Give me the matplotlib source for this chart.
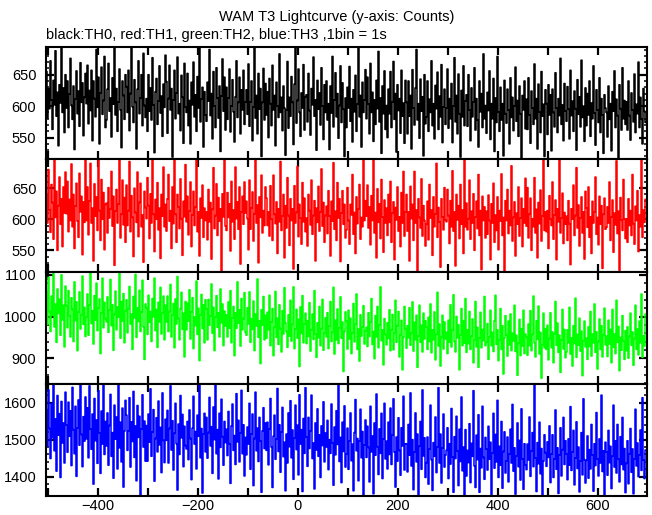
import numpy as np
import matplotlib
matplotlib.use("Agg")
import matplotlib.pyplot as plt
from matplotlib.ticker import MultipleLocator, FuncFormatter, NullLocator

plt.rcParams['font.family'] = ['Liberation Sans', 'DejaVu Sans']

title = "WAM T3 Lightcurve (y-axis: Counts)"
subtitle = "black:TH0, red:TH1, green:TH2, blue:TH3 ,1bin = 1s"

# time axis (s), one value every 2 s
time_start = -502
time_step = 2

th0 = [
655, 581, 628, 596, 672, 610, 563, 641, 602, 688, 584, 622, 537, 634, 605, 694, 590, 629, 558, 650,
597, 640, 566, 619, 676, 601, 579, 632, 531, 611, 656, 588, 624, 568, 669, 606, 637, 553, 614, 652,
604, 665, 572, 625, 593, 657, 545, 640, 612, 583, 690, 598, 646, 540, 621, 662, 587, 609, 679, 566,
578, 627, 668, 592, 613, 551, 645, 603, 694, 586, 628, 560, 607, 659, 594, 534, 640, 617, 579, 650,
631, 590, 657, 561, 620, 694, 599, 574, 642, 606, 532, 627, 672, 588, 613, 650, 569, 684, 601, 582,
612, 560, 650, 592, 629, 578, 677, 602, 526, 623, 644, 571, 608, 664, 589, 616, 552, 635, 598, 681,
639, 557, 612, 665, 594, 628, 519, 610, 657, 580, 621, 678, 588, 604, 561, 649, 614, 541, 668, 599,
590, 652, 569, 609, 540, 638, 602, 670, 583, 618, 560, 647, 597, 694, 575, 611, 630, 535, 623, 586,
576, 638, 608, 690, 585, 620, 548, 655, 600, 566, 661, 613, 581, 632, 528, 616, 675, 592, 646, 562,
630, 579, 613, 659, 559, 600, 642, 591, 543, 615, 672, 582, 606, 646, 556, 626, 594, 657, 571, 607,
626, 587, 667, 568, 607, 640, 545, 599, 694, 581, 617, 556, 652, 595, 628, 520, 606, 660, 578, 636,
586, 623, 550, 644, 604, 569, 665, 594, 617, 537, 638, 600, 582, 683, 590, 614, 561, 632, 597, 522,
594, 671, 565, 614, 584, 647, 606, 539, 635, 694, 573, 609, 659, 590, 552, 621, 597, 666, 562, 615,
618, 575, 652, 593, 554, 628, 602, 678, 584, 610, 530, 641, 595, 621, 570, 661, 600, 547, 634, 590,
640, 578, 604, 531, 632, 589, 679, 567, 610, 653, 583, 620, 549, 601, 664, 574, 637, 595, 520, 613,
566, 630, 597, 663, 576, 612, 543, 626, 591, 649, 560, 603, 694, 583, 617, 535, 638, 590, 610, 658,
580, 646, 603, 556, 668, 590, 622, 544, 610, 571, 641, 596, 687, 575, 613, 525, 632, 588, 656, 563,
601, 550, 627, 588, 655, 566, 607, 671, 579, 620, 527, 634, 593, 612, 557, 657, 584, 605, 541, 641,
606, 556, 640, 584, 617, 532, 658, 597, 570, 629, 690, 578, 604, 549, 643, 592, 615, 521, 650, 572,
583, 640, 560, 611, 590, 672, 569, 604, 548, 633, 596, 654, 563, 616, 583, 666, 542, 599, 627, 571,
597, 659, 565, 612, 580, 636, 542, 600, 677, 575, 617, 556, 651, 588, 519, 625, 583, 664, 569, 608,
618, 568, 650, 594, 545, 629, 583, 607, 661, 562, 612, 578, 535, 640, 591, 620, 566, 683, 580, 601,
557, 622, 593, 656, 547, 604, 580, 644, 528, 613, 574, 679, 591, 560, 630, 578, 604, 521, 641, 588,
573, 627, 594, 540, 645, 582, 614, 561, 600, 662, 576, 609, 552, 632, 588, 518, 617, 594, 640, 564,
611, 563, 645, 586, 541, 624, 597, 571, 667, 580, 612, 532, 635, 591, 558, 655, 584, 603, 520, 626,
604, 555, 634, 586, 618, 529, 627, 590, 567, 653, 597, 558, 612, 585, 676, 571, 602, 545, 636, 592,
576, 631, 595, 548, 657, 585, 608, 560, 624, 596, 530, 642, 587, 615, 567, 673, 582, 600, 544, 629,
569, 620, 586, 640, 552, 605, 580, 664, 589, 538, 626, 594, 574, 645, 558, 612, 586, 525, 618, 597,
590, 551, 632, 579, 604, 529, 623, 592, 656, 566, 611, 585, 518, 634, 596, 562, 661, 580, 609, 571,
607, 562, 640, 585, 546, 621, 594, 575, 651, 558, 603, 588, 670, 566, 614, 580, 540, 628, 592, 574,
]

th1 = [
641, 594, 680, 615, 579, 656, 627, 568, 705, 603, 645, 550, 622, 668, 592, 633, 556, 652, 610, 676,
609, 661, 580, 632, 598, 689, 588, 640, 553, 621, 658, 597, 571, 674, 612, 637, 543, 628, 595, 702,
598, 652, 575, 629, 690, 594, 618, 533, 657, 605, 636, 582, 710, 614, 566, 664, 600, 643, 551, 624,
626, 578, 651, 602, 617, 677, 589, 637, 526, 613, 648, 594, 625, 703, 570, 608, 663, 591, 635, 563,
655, 590, 614, 693, 580, 638, 603, 540, 650, 611, 595, 676, 572, 627, 658, 588, 607, 531, 645, 619,
601, 667, 622, 569, 641, 594, 697, 608, 548, 632, 600, 659, 583, 618, 537, 640, 605, 684, 588, 624,
581, 633, 672, 597, 614, 553, 652, 593, 706, 608, 563, 640, 620, 585, 665, 601, 542, 629, 604, 688,
596, 637, 575, 613, 660, 556, 607, 645, 590, 620, 712, 580, 612, 541, 634, 602, 655, 571, 618, 598,
612, 567, 648, 596, 627, 536, 616, 683, 585, 606, 657, 574, 635, 597, 617, 515, 641, 604, 699, 589,
582, 643, 603, 625, 549, 661, 596, 615, 568, 684, 601, 628, 584, 652, 528, 612, 637, 592, 660, 610,
629, 601, 551, 663, 584, 618, 644, 565, 609, 714, 594, 623, 530, 636, 603, 671, 578, 614, 590, 652,
634, 590, 612, 573, 654, 600, 566, 671, 608, 593, 628, 545, 617, 596, 693, 582, 605, 640, 538, 622,
586, 667, 606, 558, 633, 598, 617, 520, 654, 594, 611, 685, 572, 624, 602, 560, 659, 596, 634, 580,
602, 557, 640, 614, 591, 663, 576, 606, 630, 533, 618, 595, 653, 581, 612, 681, 589, 627, 563, 606,
621, 577, 646, 605, 541, 629, 597, 691, 584, 613, 566, 659, 602, 633, 532, 610, 646, 592, 624, 570,
583, 651, 598, 560, 624, 607, 672, 576, 611, 545, 636, 593, 617, 656, 568, 603, 588, 710, 598, 630,
605, 655, 586, 620, 559, 638, 598, 704, 578, 611, 538, 649, 595, 625, 569, 664, 604, 547, 631, 594,
618, 574, 640, 595, 661, 563, 610, 628, 535, 619, 599, 652, 581, 604, 556, 643, 594, 677, 573, 612,
640, 581, 612, 533, 653, 601, 624, 566, 677, 594, 615, 510, 633, 603, 586, 665, 573, 622, 598, 557,
592, 629, 567, 656, 602, 615, 542, 636, 588, 609, 690, 571, 619, 596, 523, 633, 604, 583, 651, 599,
596, 648, 606, 561, 630, 588, 678, 581, 612, 525, 640, 599, 622, 569, 656, 592, 615, 545, 703, 588,
626, 583, 601, 663, 568, 613, 594, 641, 550, 604, 629, 585, 672, 574, 614, 519, 637, 598, 620, 570,
613, 576, 639, 598, 535, 625, 594, 658, 563, 607, 582, 636, 551, 614, 597, 673, 574, 603, 509, 630,
598, 648, 577, 614, 590, 686, 565, 603, 628, 541, 610, 592, 652, 573, 602, 634, 556, 617, 594, 666,
589, 651, 570, 608, 634, 550, 601, 588, 667, 578, 616, 538, 627, 593, 647, 565, 605, 712, 582, 612,
580, 614, 553, 638, 600, 590, 660, 568, 607, 631, 535, 617, 596, 698, 578, 602, 642, 561, 611, 592,
605, 566, 630, 593, 527, 617, 600, 655, 574, 606, 683, 586, 623, 557, 602, 636, 578, 612, 536, 645,
618, 587, 652, 571, 604, 545, 629, 594, 612, 668, 576, 603, 559, 637, 592, 622, 521, 608, 634, 584,
587, 620, 594, 660, 566, 604, 631, 547, 610, 591, 694, 577, 613, 518, 635, 599, 582, 664, 600, 569,
601, 563, 633, 590, 614, 574, 672, 593, 560, 621, 598, 646, 548, 607, 588, 706, 571, 615, 595, 632,
]

th2 = [
1058, 981, 1094, 1012, 964, 1049, 1003, 1108, 975, 1030, 938, 1066, 1007, 1041, 955, 1100, 992, 1027, 927, 1073,
1026, 973, 1062, 1002, 951, 1045, 1017, 940, 1083, 990, 1035, 918, 1011, 1059, 970, 1004, 1097, 981, 1022, 952,
998, 1054, 955, 1027, 1108, 983, 1014, 934, 1050, 991, 1080, 966, 1020, 1042, 911, 1008, 1092, 973, 1034, 995,
987, 1047, 962, 1016, 1089, 978, 1028, 919, 1005, 1061, 968, 1023, 998, 1108, 948, 1036, 989, 1055, 937, 1014,
1040, 961, 1018, 1072, 982, 1006, 921, 1048, 997, 1101, 950, 1021, 988, 1063, 964, 1011, 1087, 975, 897, 1030,
1021, 957, 1051, 986, 1012, 940, 1043, 999, 1092, 966, 1017, 926, 1034, 987, 1070, 958, 1008, 1049, 944, 1027,
987, 1049, 964, 1012, 1077, 951, 1003, 1031, 925, 1042, 982, 1096, 995, 944, 1019, 1058, 969, 1008, 903, 1036,
968, 1032, 989, 1064, 946, 1011, 1045, 923, 999, 978, 1085, 957, 1020, 894, 1004, 1053, 971, 1028, 937, 1040,
1018, 944, 1041, 979, 1001, 1078, 960, 1022, 918, 998, 1050, 974, 1009, 951, 1066, 985, 1030, 930, 1013, 977,
1004, 951, 1035, 972, 1062, 937, 996, 1024, 906, 1009, 972, 1083, 984, 1016, 929, 1043, 968, 995, 1057, 962,
955, 1021, 982, 1059, 938, 995, 969, 1037, 918, 1006, 977, 1090, 950, 990, 887, 1016, 979, 1048, 944, 1003,
948, 1010, 968, 1051, 930, 987, 1019, 906, 974, 1060, 950, 996, 933, 1028, 971, 915, 1014, 958, 1069, 985,
964, 926, 1004, 953, 1039, 941, 981, 1071, 923, 970, 1017, 948, 993, 880, 1023, 959, 1050, 937, 982, 1008,
935, 990, 952, 1033, 917, 968, 1006, 945, 1062, 958, 902, 985, 949, 1024, 930, 971, 1041, 919, 960, 997,
951, 1009, 923, 977, 1036, 940, 962, 1070, 910, 991, 944, 1018, 935, 972, 1047, 948, 987, 868, 964, 1011,
989, 922, 1015, 946, 996, 911, 961, 1031, 939, 982, 1054, 921, 970, 893, 1004, 953, 975, 1026, 934, 965,
974, 928, 1009, 952, 987, 1043, 933, 964, 899, 1002, 951, 1024, 925, 980, 1071, 942, 968, 884, 995, 957,
932, 985, 947, 1016, 918, 967, 1005, 920, 961, 1039, 938, 978, 1012, 903, 956, 991, 872, 950, 1024, 970,
924, 978, 949, 1021, 931, 960, 1035, 917, 986, 944, 1003, 878, 953, 1027, 938, 979, 915, 1008, 946, 990,
975, 921, 998, 940, 1030, 913, 968, 944, 1011, 896, 957, 1058, 929, 982, 881, 950, 1003, 922, 987, 946,
962, 911, 991, 938, 1028, 927, 968, 1052, 940, 915, 1000, 949, 980, 872, 955, 1019, 930, 990, 936, 1043,
914, 968, 935, 1012, 921, 952, 994, 889, 943, 1036, 927, 974, 878, 948, 1010, 925, 969, 942, 1048, 930,
938, 983, 897, 951, 1015, 930, 962, 916, 990, 1051, 933, 968, 894, 944, 1019, 921, 978, 862, 949, 1002,
956, 905, 989, 932, 1006, 918, 960, 941, 1027, 916, 955, 859, 937, 993, 906, 971, 929, 1015, 911, 958,
950, 907, 982, 930, 1014, 918, 957, 1049, 937, 903, 990, 945, 1025, 910, 962, 852, 932, 1008, 925, 971,
921, 979, 896, 947, 1009, 925, 963, 889, 958, 1036, 931, 984, 914, 955, 866, 943, 1017, 922, 969, 901,
915, 968, 937, 1022, 910, 949, 881, 978, 935, 1044, 902, 957, 931, 996, 917, 965, 858, 941, 989, 927,
948, 897, 975, 928, 1012, 905, 958, 937, 1030, 914, 963, 874, 940, 994, 921, 978, 903, 955, 1020, 932,
953, 904, 991, 934, 969, 889, 1017, 926, 958, 911, 1039, 938, 976, 870, 950, 919, 1002, 942, 897, 966,
918, 975, 900, 952, 1008, 931, 963, 883, 947, 1027, 921, 970, 908, 989, 937, 1054, 902, 954, 929, 1006,
]

th3 = [
1581, 1482, 1634, 1530, 1449, 1597, 1505, 1650, 1470, 1556, 1415, 1619, 1512, 1570, 1398, 1603, 1491, 1545, 1437, 1628,
1540, 1466, 1601, 1509, 1578, 1430, 1641, 1527, 1462, 1590, 1401, 1532, 1607, 1485, 1650, 1514, 1427, 1562, 1496, 1615,
1502, 1586, 1451, 1645, 1528, 1474, 1569, 1380, 1611, 1497, 1553, 1436, 1632, 1518, 1409, 1577, 1488, 1650, 1460, 1549,
1483, 1572, 1431, 1538, 1622, 1455, 1519, 1396, 1593, 1501, 1561, 1421, 1650, 1478, 1547, 1440, 1585, 1372, 1523, 1606,
1566, 1471, 1524, 1613, 1426, 1548, 1495, 1630, 1452, 1537, 1389, 1592, 1506, 1563, 1350, 1528, 1621, 1480, 1550, 1442,
1538, 1442, 1569, 1493, 1637, 1455, 1520, 1581, 1388, 1503, 1559, 1467, 1604, 1486, 1533, 1411, 1626, 1498, 1438, 1555,
1498, 1579, 1437, 1530, 1645, 1472, 1551, 1418, 1517, 1598, 1489, 1364, 1542, 1460, 1619, 1505, 1568, 1427, 1536, 1484,
1475, 1549, 1446, 1580, 1503, 1392, 1531, 1617, 1488, 1522, 1421, 1566, 1509, 1650, 1451, 1530, 1356, 1515, 1571, 1467,
1560, 1450, 1519, 1614, 1483, 1535, 1409, 1588, 1500, 1648, 1462, 1527, 1394, 1571, 1479, 1609, 1508, 1431, 1549, 1492,
1528, 1457, 1576, 1489, 1382, 1537, 1596, 1471, 1511, 1433, 1624, 1494, 1552, 1440, 1518, 1633, 1462, 1540, 1402, 1506,
1459, 1534, 1488, 1598, 1420, 1515, 1569, 1376, 1503, 1628, 1470, 1531, 1441, 1560, 1497, 1358, 1524, 1586, 1476, 1545,
1471, 1547, 1432, 1529, 1611, 1480, 1371, 1509, 1566, 1447, 1501, 1638, 1468, 1540, 1412, 1520, 1587, 1454, 1493, 1362,
1515, 1437, 1572, 1481, 1605, 1451, 1526, 1393, 1504, 1593, 1473, 1539, 1405, 1621, 1488, 1527, 1360, 1557, 1463, 1640,
1507, 1428, 1560, 1476, 1524, 1620, 1449, 1491, 1367, 1545, 1472, 1583, 1455, 1513, 1398, 1537, 1484, 1602, 1440, 1518,
1480, 1552, 1419, 1500, 1463, 1596, 1491, 1377, 1534, 1459, 1578, 1487, 1650, 1441, 1506, 1384, 1547, 1468, 1591, 1426,
1461, 1531, 1420, 1497, 1572, 1443, 1488, 1362, 1519, 1608, 1470, 1503, 1389, 1496, 1582, 1451, 1522, 1349, 1485, 1553,
1452, 1536, 1479, 1386, 1590, 1467, 1510, 1354, 1545, 1458, 1623, 1481, 1406, 1529, 1463, 1571, 1395, 1502, 1598, 1448,
1496, 1421, 1547, 1460, 1585, 1433, 1513, 1610, 1466, 1372, 1507, 1442, 1559, 1471, 1404, 1532, 1483, 1617, 1418, 1489,
1488, 1413, 1541, 1458, 1626, 1429, 1500, 1365, 1467, 1572, 1440, 1515, 1352, 1482, 1549, 1420, 1634, 1456, 1505, 1398,
1438, 1507, 1380, 1474, 1593, 1446, 1363, 1492, 1455, 1561, 1411, 1480, 1640, 1437, 1515, 1383, 1478, 1569, 1426, 1458,
1471, 1532, 1395, 1489, 1434, 1584, 1453, 1358, 1508, 1449, 1563, 1470, 1376, 1528, 1441, 1615, 1416, 1480, 1350, 1527,
1402, 1471, 1438, 1543, 1384, 1490, 1455, 1632, 1429, 1371, 1512, 1446, 1567, 1358, 1476, 1424, 1590, 1452, 1393, 1506,
1475, 1418, 1536, 1447, 1493, 1352, 1464, 1571, 1423, 1514, 1440, 1606, 1398, 1482, 1431, 1549, 1369, 1468, 1521, 1410,
1443, 1507, 1386, 1462, 1528, 1437, 1595, 1415, 1478, 1353, 1456, 1545, 1427, 1498, 1391, 1583, 1448, 1366, 1489, 1432,
1419, 1488, 1445, 1561, 1401, 1470, 1519, 1427, 1648, 1451, 1360, 1492, 1435, 1547, 1408, 1476, 1351, 1442, 1513, 1465,
1428, 1494, 1452, 1537, 1384, 1461, 1513, 1398, 1448, 1580, 1420, 1478, 1355, 1459, 1532, 1402, 1473, 1560, 1433, 1497,
1461, 1392, 1502, 1431, 1589, 1417, 1466, 1525, 1378, 1450, 1548, 1422, 1480, 1359, 1443, 1519, 1405, 1610, 1446, 1383,
1444, 1510, 1396, 1473, 1421, 1541, 1459, 1361, 1489, 1430, 1573, 1448, 1402, 1502, 1437, 1620, 1414, 1470, 1352, 1493,
1467, 1404, 1525, 1438, 1482, 1368, 1455, 1593, 1426, 1497, 1410, 1541, 1447, 1386, 1508, 1433, 1560, 1419, 1476, 1357,
1436, 1497, 1381, 1462, 1530, 1412, 1475, 1354, 1448, 1582, 1429, 1491, 1400, 1459, 1526, 1417, 1613, 1445, 1395, 1472,
]

series = [th0, th1, th2, th3]
colors = ['#000000', '#ff0000', '#00ff00', '#0000ff']
ylims = [(516, 694), (516, 697), (838, 1108), (1348, 1650)]
ymajor = [50, 50, 100, 100]
yminor = [10, 10, 20, 20]
xlim = (-503, 699)

W, H = 652, 515
fig = plt.figure(figsize=(W / 100, H / 100), dpi=100)

left, right = 46, 647
edges = [47, 159, 271.5, 384, 496]

for i, vals in enumerate(series):
    top, bot = edges[i], edges[i + 1]
    ax = fig.add_axes([left / W, 1 - bot / H, (right - left) / W, (bot - top) / H])
    t = time_start + time_step * np.arange(len(vals))
    ax.plot(t, vals, color=colors[i], lw=1.1, drawstyle='steps-mid')
    ax.set_xlim(*xlim)
    ax.set_ylim(*ylims[i])
    ax.xaxis.set_major_locator(MultipleLocator(100))
    ax.xaxis.set_minor_locator(NullLocator())
    ax.yaxis.set_major_locator(MultipleLocator(ymajor[i]))
    ax.yaxis.set_minor_locator(MultipleLocator(yminor[i]))
    ax.tick_params(which='both', direction='in', top=True, right=True,
                   labelsize=10.5, colors='black')
    ax.tick_params(which='major', length=5.5, width=1.6)
    ax.tick_params(which='minor', length=2.5, width=1.1)
    ax.tick_params(axis='y', pad=7)
    ax.tick_params(axis='x', pad=2)
    for s in ax.spines.values():
        s.set_linewidth(1.5)
        s.set_zorder(5)
    if i < 3:
        ax.set_xticklabels([])
    else:
        ax.xaxis.set_major_formatter(FuncFormatter(
            lambda v, p: ('\u2212%d' % -v if v < 0 else '%d' % v) if int(round(v)) % 200 == 0 else ''))
    ax.yaxis.set_major_formatter(FuncFormatter(
        lambda v, p: '%d' % v))

fig.text(337 / W, 1 - 17 / H, title, ha='center', va='center', fontsize=10.5)
fig.text(46 / W, 1 - 35 / H, subtitle, ha='left', va='center', fontsize=10.5)

fig.savefig('out.png', dpi=100)
